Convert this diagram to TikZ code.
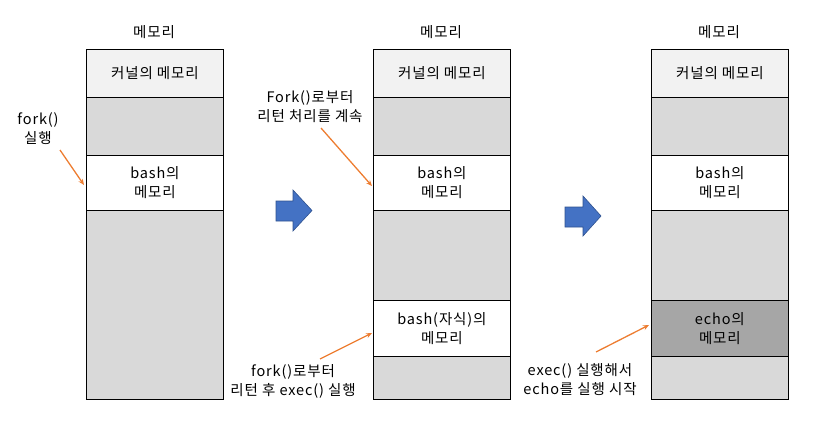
\documentclass[tikz,border=0pt]{standalone}
\usepackage{fontspec}
\setmainfont[LetterSpace=6]{Noto Sans CJK KR}
\usetikzlibrary{arrows.meta}
\definecolor{kern}{HTML}{F2F2F2}
\definecolor{lgray}{HTML}{D9D9D9}
\definecolor{dgray}{HTML}{A6A6A6}
\definecolor{orng}{HTML}{ED7D31}
\definecolor{blu}{HTML}{4472C4}
\definecolor{bluedge}{HTML}{2F528F}
\begin{document}
\begin{tikzpicture}[x=1pt,y=-1pt,
  cell/.style={draw=black,line width=0.8pt,minimum width=137pt,inner sep=0pt,anchor=north west,align=center,font=\fontsize{14.5}{19}\selectfont},
  lbl/.style={align=center,font=\fontsize{14.5}{19}\selectfont,inner sep=0pt},
  pointer/.style={draw=orng,line width=1.3pt,-{Stealth[length=6pt,width=5pt]}},
  bigarrow/.style={draw=bluedge,fill=blu,line width=0.6pt}
]
\useasboundingbox (0,0) rectangle (829,440);
% column 1
\node[lbl] (t1) at (154,32) {메모리};
\node[cell,fill=kern,minimum height=48pt] (k1) at (86,49) {커널의 메모리};
\node[cell,fill=lgray,minimum height=58pt] (g1a) at (86,97) {};
\node[cell,fill=white,minimum height=55pt] (b1) at (86,155) {bash의\\메모리};
\node[cell,fill=lgray,minimum height=189pt] (g1b) at (86,210) {};
% column 2
\node[lbl] (t2) at (441,32) {메모리};
\node[cell,fill=kern,minimum height=48pt] (k2) at (373,49) {커널의 메모리};
\node[cell,fill=lgray,minimum height=58pt] (g2a) at (373,97) {};
\node[cell,fill=white,minimum height=55pt] (b2) at (373,155) {bash의\\메모리};
\node[cell,fill=lgray,minimum height=90pt] (g2b) at (373,210) {};
\node[cell,fill=white,minimum height=56pt] (c2) at (373,300) {bash(자식)의\\메모리};
\node[cell,fill=lgray,minimum height=43pt] (g2c) at (373,356) {};
% column 3
\node[lbl] (t3) at (719,32) {메모리};
\node[cell,fill=kern,minimum height=48pt] (k3) at (651,49) {커널의 메모리};
\node[cell,fill=lgray,minimum height=58pt] (g3a) at (651,97) {};
\node[cell,fill=white,minimum height=55pt] (b3) at (651,155) {bash의\\메모리};
\node[cell,fill=lgray,minimum height=90pt] (g3b) at (651,210) {};
\node[cell,fill=dgray,minimum height=56pt] (e3) at (651,300) {echo의\\메모리};
\node[cell,fill=lgray,minimum height=43pt] (g3c) at (651,356) {};
% annotations
\node[lbl] (a1) at (38,129) {fork()\\실행};
\node[lbl] (a2) at (310,107) {Fork()로부터\\리턴 처리를 계속};
\node[lbl] (a3) at (293,381) {fork()로부터\\리턴 후 exec() 실행};
\node[lbl] (a4) at (580,380) {exec() 실행해서\\echo를 실행 시작};
\coordinate (p1s) at (60,150); \coordinate (p1e) at (84,185);
\coordinate (p2s) at (321,128); \coordinate (p2e) at (372,186);
\coordinate (p3s) at (320,359); \coordinate (p3e) at (372,333);
\coordinate (p4s) at (596,352); \coordinate (p4e) at (649,325);
\draw[pointer] (p1s) -- (p1e);
\draw[pointer] (p2s) -- (p2e);
\draw[pointer] (p3s) -- (p3e);
\draw[pointer] (p4s) -- (p4e);
% block arrows
\draw[bigarrow] (276,201) -- (293,201) -- (293,190) -- (312,210.5) -- (293,231) -- (293,221) -- (276,221) -- cycle;
\draw[bigarrow] (565,207) -- (583,207) -- (583,196) -- (601,216) -- (583,236) -- (583,227) -- (565,227) -- cycle;
\end{tikzpicture}
\end{document}
